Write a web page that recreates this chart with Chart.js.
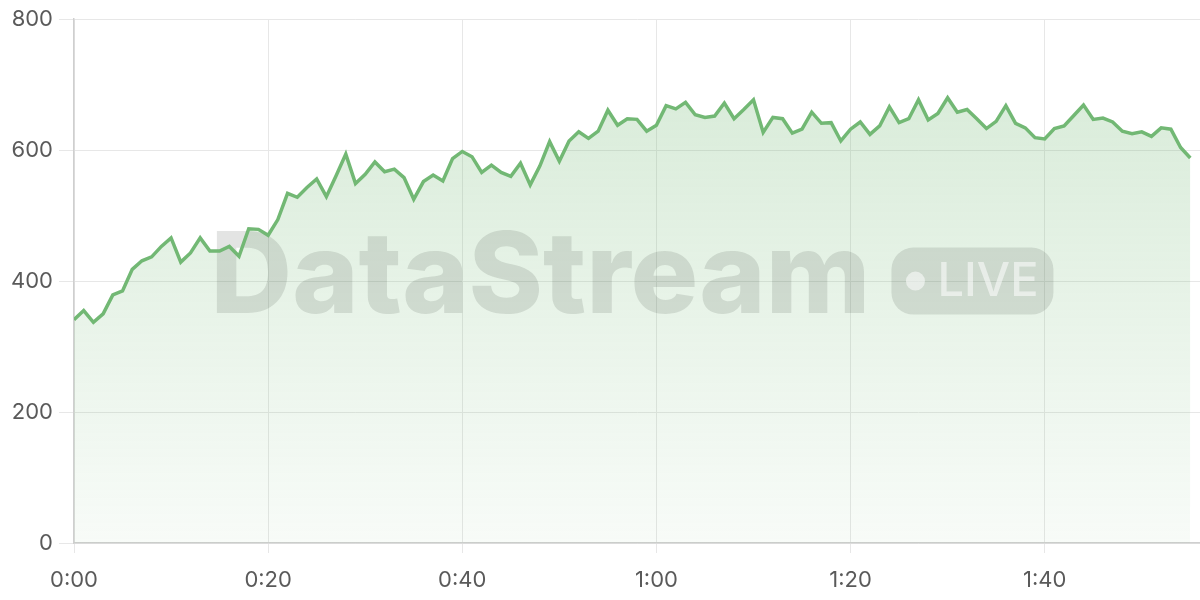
<!DOCTYPE html>
<html>
<head>
<meta charset="utf-8">
<script src="https://cdn.jsdelivr.net/npm/chart.js@4.4.1/dist/chart.umd.min.js"></script>
<style>
  html, body { margin: 0; padding: 0; background: #ffffff; }
  #wrap { width: 1200px; height: 600px; position: relative; }
</style>
</head>
<body>
<div id="wrap"><canvas id="c"></canvas></div>
<script>
// ---- data ----
const values = [
  341,355,337,350,379,385,418,431,437,453,
  466,429,443,466,446,446,453,438,480,479,
  470,494,534,528,543,556,529,561,594,549,
  563,582,567,571,558,525,552,562,553,587,
  598,590,566,577,566,560,580,547,576,613,
  583,614,628,618,629,661,638,648,647,629,
  638,668,663,673,654,650,652,672,648,662,
  677,627,650,648,626,632,658,641,642,614,
  632,643,624,637,666,642,648,677,646,656,
  680,658,662,648,633,644,668,641,634,619,
  617,633,637,653,669,647,649,643,629,625,
  628,621,634,632,604,588
];
const startSecond = 0;      // first sample time (s)
const sampleInterval = 1;   // seconds between samples
const xTickValues = [0, 20, 40, 60, 80, 100];
const xTickLabels = ['0:00', '0:20', '0:40', '1:00', '1:20', '1:40'];
const yTickValues = [0, 200, 400, 600, 800];
const yTickLabels = ['0', '200', '400', '600', '800'];
const watermarkTitle = 'DataStream';
const watermarkBadge = 'LIVE';

const points = values.map((v, i) => ({ x: startSecond + i * sampleInterval, y: v }));

const FONT = 'Inter, "Noto Sans", sans-serif';

const watermarkPlugin = {
  id: 'watermark',
  beforeDatasetsDraw(chart) {
    const { ctx, chartArea } = chart;
    const cx = (chartArea.left + chartArea.right) / 2;
    const cy = (chartArea.top + chartArea.bottom) / 2;
    ctx.save();
    let size = 114;
    ctx.font = `800 ${size}px ${FONT}`;
    let w = ctx.measureText(watermarkTitle).width;
    size = size * 660 / w;
    ctx.font = `800 ${size}px ${FONT}`;
    w = ctx.measureText(watermarkTitle).width;
    const gap = 21, pillW = 162, pillH = 67;
    const total = w + gap + pillW;
    const startX = cx - total / 2 - 5;
    const baseline = cy + 31.5;
    ctx.fillStyle = 'rgba(40,50,40,0.13)';
    ctx.textAlign = 'left';
    ctx.textBaseline = 'alphabetic';
    ctx.fillText(watermarkTitle, startX, baseline);
    const px = startX + w + gap, py = baseline + 2 - pillH, r = 22;
    ctx.beginPath();
    ctx.moveTo(px + r, py);
    ctx.lineTo(px + pillW - r, py);
    ctx.arcTo(px + pillW, py, px + pillW, py + r, r);
    ctx.lineTo(px + pillW, py + pillH - r);
    ctx.arcTo(px + pillW, py + pillH, px + pillW - r, py + pillH, r);
    ctx.lineTo(px + r, py + pillH);
    ctx.arcTo(px, py + pillH, px, py + pillH - r, r);
    ctx.lineTo(px, py + r);
    ctx.arcTo(px, py, px + r, py, r);
    ctx.closePath();
    ctx.fill();
    ctx.fillStyle = 'rgba(255,255,255,0.55)';
    ctx.beginPath();
    ctx.arc(px + 24, py + pillH / 2, 9.5, 0, Math.PI * 2);
    ctx.fill();
    ctx.font = `500 47px ${FONT}`;
    ctx.textBaseline = 'middle';
    ctx.fillText(watermarkBadge, px + 46, py + pillH / 2 + 1);
    ctx.restore();
  }
};

const ctx = document.getElementById('c').getContext('2d');
new Chart(ctx, {
  type: 'line',
  data: {
    datasets: [{
      data: points,
      borderColor: '#72b874',
      borderWidth: 3.5,
      pointRadius: 0,
      pointHoverRadius: 0,
      tension: 0,
      fill: 'origin',
      backgroundColor: (c) => {
        const area = c.chart.chartArea;
        if (!area) return 'rgba(114,184,116,0.25)';
        const g = c.chart.ctx.createLinearGradient(0, area.top, 0, area.bottom);
        g.addColorStop(0, 'rgba(114,184,116,0.30)');
        g.addColorStop(1, 'rgba(114,184,116,0.05)');
        return g;
      }
    }]
  },
  options: {
    responsive: true,
    maintainAspectRatio: false,
    animation: false,
    events: [],
    layout: { padding: { top: 8, right: 0, bottom: 0, left: 0 } },
    plugins: {
      legend: { display: false },
      tooltip: { enabled: false },
      filler: { drawTime: 'beforeDatasetsDraw' }
    },
    scales: {
      x: {
        type: 'linear',
        min: 0,
        max: 116,
        afterBuildTicks: (scale) => { scale.ticks = xTickValues.map(v => ({ value: v })); },
        afterFit: (scale) => { scale.height = 57; },
        ticks: {
          autoSkip: false,
          maxRotation: 0,
          padding: 14,
          color: '#5a5a5a',
          font: { family: FONT, size: 22 },
          callback: (v) => { const i = xTickValues.indexOf(v); return i >= 0 ? xTickLabels[i] : ''; }
        },
        grid: { color: '#e7e7e7', lineWidth: 1, tickLength: 10 },
        border: { color: '#cfcfcf', width: 1.5 }
      },
      y: {
        min: 0,
        max: 800,
        afterBuildTicks: (scale) => { scale.ticks = yTickValues.map(v => ({ value: v })); },
        afterFit: (scale) => { scale.width = 74; },
        ticks: {
          padding: 6,
          color: '#5a5a5a',
          font: { family: FONT, size: 22 },
          callback: (v) => { const i = yTickValues.indexOf(v); return i >= 0 ? yTickLabels[i] : ''; }
        },
        grid: { color: '#e7e7e7', lineWidth: 1, tickLength: 15 },
        border: { color: '#cfcfcf', width: 1.5 }
      }
    }
  },
  plugins: [watermarkPlugin]
});
</script>
</body>
</html>
